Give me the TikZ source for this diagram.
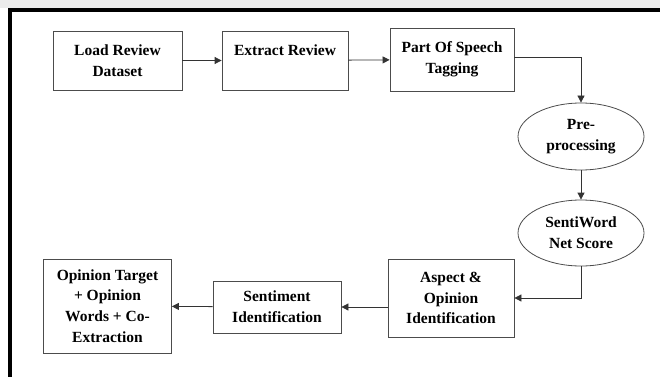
\documentclass[tikz,border=0pt]{standalone}
\usepackage{fontspec}
\setmainfont{Liberation Serif}
\usetikzlibrary{arrows.meta}
\usetikzlibrary{shapes.geometric}

\begin{document}
\begin{tikzpicture}[x=1pt,y=-1pt]

        % frame of the page
        \useasboundingbox (0,0) rectangle (660,377);
        \fill[black!8] (0,0) rectangle (660,8.5);
        \fill[black] (8,8.5) rectangle (660,12);
        \fill[black] (8,8.5) rectangle (11.5,377);

        \begin{scope}[every node/.style={draw=black!70,line width=0.8pt,
            inner sep=0pt,align=center,
            font=\fontsize{15.5}{20.8}\selectfont\bfseries}]
            \node[minimum width=129pt,minimum height=59pt] (load) at (117.5,60.5) {Load Review\\Dataset};
            \node[minimum width=126pt,minimum height=59pt] (extract) at (285,60.5) {Extract Review\\\mbox{}};
            \node[minimum width=124pt,minimum height=63pt] (pos) at (452,59.5) {Part Of Speech\\Tagging};
            \node[ellipse,minimum width=126pt,minimum height=67pt] (pre) at (581,136.5) {Pre-\\processing};
            \node[ellipse,minimum width=126pt,minimum height=66pt] (senti) at (581,233) {SentiWord\\Net Score};
            \node[minimum width=126pt,minimum height=78pt] (aspect) at (451,298) {Aspect \&\\Opinion\\Identification};
            \node[minimum width=128pt,minimum height=52pt] (sent) at (277,307) {Sentiment\\Identification};
            \node[minimum width=128pt,minimum height=94pt] (opin) at (107.5,306) {Opinion Target\\+ Opinion\\Words + Co-\\Extraction};
        \end{scope}

        \begin{scope}[>={Triangle[length=7pt,width=7pt]},
            line width=0.8pt,draw=black!80]
            \draw [->] (load) -- (extract);
            \draw [->] (extract) -- (pos);
            \draw [->] ([yshift=2.5pt]pos.east) -| (pre.north);
            \draw [->] (pre) -- (senti);
            \draw [->] (senti.south) |- (aspect.east);
            \draw [->] (aspect.west |- sent) -- (sent.east);
            \draw [->] (sent) -- (opin);
        \end{scope}
    \end{tikzpicture}
\end{document}
